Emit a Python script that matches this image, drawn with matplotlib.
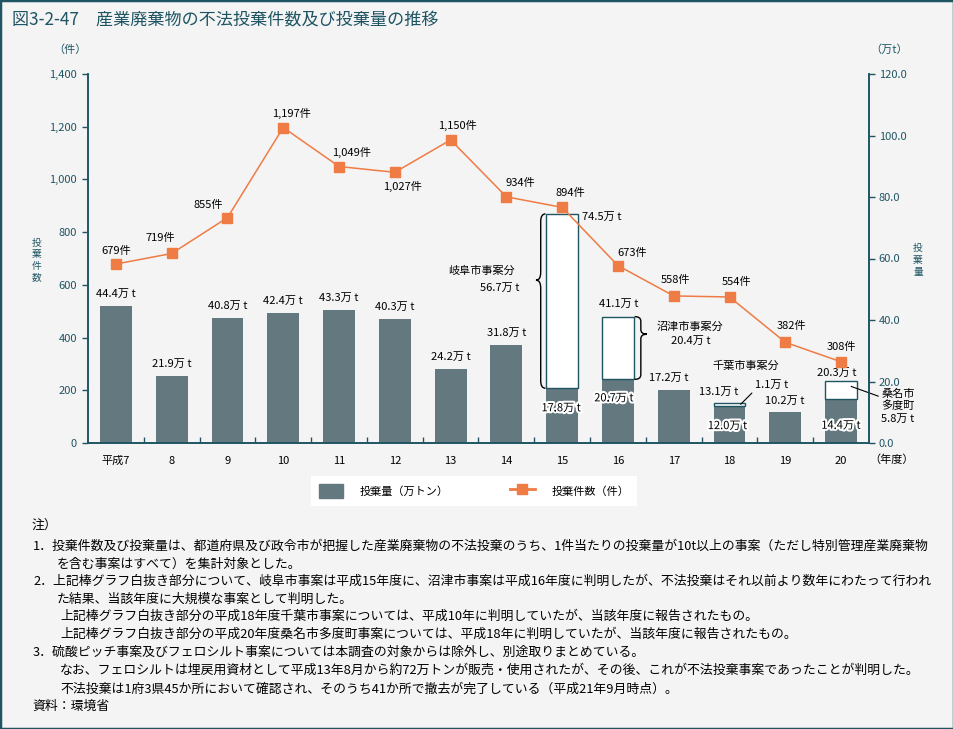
import numpy as np
import matplotlib
matplotlib.use("Agg")
import matplotlib.pyplot as plt
from matplotlib.path import Path
from matplotlib.patches import PathPatch, Patch, Rectangle
from matplotlib.lines import Line2D
import matplotlib.patheffects as pe

plt.rcParams['font.family'] = ['Noto Sans CJK JP', 'DejaVu Sans']

# data
years = ['平成7', '8', '9', '10', '11', '12', '13', '14', '15', '16', '17', '18', '19', '20']
counts = [679, 719, 855, 1197, 1049, 1027, 1150, 934, 894, 673, 558, 554, 382, 308]
amount_base = [44.4, 21.9, 40.8, 42.4, 43.3, 40.3, 24.2, 31.8, 17.8, 20.7, 17.2, 12.0, 10.2, 14.4]
amount_extra = [0, 0, 0, 0, 0, 0, 0, 0, 56.7, 20.4, 0, 1.1, 0, 5.8]
amount_total = [44.4, 21.9, 40.8, 42.4, 43.3, 40.3, 24.2, 31.8, 74.5, 41.1, 17.2, 13.1, 10.2, 20.3]

# label offsets in pixels (dx, dy up)
count_offsets = [(0, 13), (-11, 16), (-19, 13), (8, 14), (13, 14), (8, -14), (7, 14),
                 (14, 14), (8, 14), (14, 13), (2, 16), (7, 15), (6, 16), (0, 15)]
total_offsets = [(0, 13), (0, 12), (0, 12), (0, 12), (0, 12), (0, 12), (0, 12),
                 (0, 12), (40, -3), (1, 13), (-5, 12), (-11, 11), (-1, 11), (-4, 8)]

TEAL = '#1f5563'
GRAY = '#647880'
ORANGE = '#ef7b45'
BG = '#f4f4f4'
W, H = 954, 729
PT = 0.72  # px -> pt at dpi 100


def fx(x):
    return x / W


def fy(y):
    return 1 - y / H


fig = plt.figure(figsize=(9.54, 7.29), dpi=100, facecolor=BG)
ax = fig.add_axes([fx(88), fy(443), 781 / W, 369 / H])
ax.set_facecolor(BG)
ax2 = ax.twinx()

x = np.arange(len(years))
bw = 0.57
ax.bar(x, amount_base, width=bw, color=GRAY, zorder=2)
has_extra = [i for i, v in enumerate(amount_extra) if v > 0]
ax.bar(x[has_extra], [amount_extra[i] for i in has_extra], width=bw,
       bottom=[amount_base[i] for i in has_extra], color='white',
       edgecolor=TEAL, linewidth=1.0, zorder=2)
ax.set_ylim(0, 120)
ax.set_xlim(-0.5, len(years) - 0.5)
ax.yaxis.tick_right()
ax.set_yticks(np.arange(0, 121, 20))
ax.set_yticklabels([f'{v:.1f}' for v in np.arange(0, 121, 20)])

ax2.plot(x, counts, color=ORANGE, lw=1.1, marker='s', ms=6.5, mec=ORANGE, mfc=ORANGE, zorder=3)
ax2.set_ylim(0, 1400)
ax2.yaxis.tick_left()
ax2.set_yticks(np.arange(0, 1401, 200))
ax2.set_yticklabels([f'{v:,}' for v in range(0, 1401, 200)])

for a in (ax, ax2):
    a.spines['top'].set_visible(False)
    for s in ('left', 'right', 'bottom'):
        a.spines[s].set_color(TEAL)
        a.spines[s].set_linewidth(1.2)
    a.tick_params(axis='y', colors=TEAL, labelsize=8, length=4, width=1)

ax.tick_params(axis='y', pad=3)
ax2.tick_params(axis='y', pad=4)
ax.set_xticks(x)
ax.set_xticklabels(years)
ax.set_xticks(x[:-1] + 0.5, minor=True)
ax.tick_params(axis='x', which='major', length=0, pad=9, labelsize=8, labelcolor='black')
ax.tick_params(axis='x', which='minor', direction='in', length=4, width=1, color=TEAL)

# count labels
for i, c in enumerate(counts):
    dx, dy = count_offsets[i]
    ax2.annotate(f'{c:,}件', (x[i], c), xytext=(dx * PT, dy * PT), textcoords='offset points',
                 ha='center', va='center', fontsize=8)

# bar total labels
for i, t in enumerate(amount_total):
    dx, dy = total_offsets[i]
    ax.annotate(f'{t}万 t', (x[i], t), xytext=(dx * PT, dy * PT), textcoords='offset points',
                ha='center', va='center', fontsize=8)

# base labels inside bars with halo
halo = [pe.withStroke(linewidth=3, foreground='white')]
for i, (dx, dy) in zip([8, 9, 11, 13], [(-1, -20), (-4, -19), (-2, -20), (0, -27)]):
    ax.annotate(f'{amount_base[i]}万 t', (x[i], amount_base[i]), xytext=(dx * PT, dy * PT),
                textcoords='offset points', ha='center', va='center', fontsize=8,
                path_effects=halo, zorder=5)


def brace(a, x0, y0, y1, w, r, frac=0.5):
    # curly brace from y0 to y1, tip pointing by w, tip at frac of the height
    ym = y0 + frac * (y1 - y0)
    verts = [(x0, y0), (x0 + w / 2, y0), (x0 + w / 2, y0 + r), (x0 + w / 2, ym - r),
             (x0 + w / 2, ym), (x0 + w, ym), (x0 + w / 2, ym), (x0 + w / 2, ym + r),
             (x0 + w / 2, y1 - r), (x0 + w / 2, y1), (x0, y1)]
    codes = [Path.MOVETO, Path.CURVE3, Path.CURVE3, Path.LINETO, Path.CURVE3, Path.CURVE3,
             Path.CURVE3, Path.CURVE3, Path.LINETO, Path.CURVE3, Path.CURVE3]
    a.add_patch(PathPatch(Path(verts, codes), fill=False, lw=1.0, color='black', zorder=4))
    return x0 + w, ym


# 岐阜市
tx, ty = brace(ax, x[8] - 0.30, amount_base[8], amount_total[8], -0.17, 2.5, frac=0.62)
ax.annotate('岐阜市事案分', (tx, ty), xytext=(-54 * PT, 9 * PT), textcoords='offset points',
            ha='center', va='center', fontsize=8)
ax.annotate(f'{amount_extra[8]}万 t', (tx, ty), xytext=(-36 * PT, -8 * PT), textcoords='offset points',
            ha='center', va='center', fontsize=8)

# 沼津市
tx, ty = brace(ax, x[9] + 0.30, amount_base[9], amount_total[9], 0.22, 1.5, frac=0.72)
ax.annotate('沼津市事案分', (tx, ty), xytext=(43 * PT, 8 * PT), textcoords='offset points',
            ha='center', va='center', fontsize=8)
ax.annotate(f'{amount_extra[9]}万 t', (tx, ty), xytext=(44 * PT, -7 * PT), textcoords='offset points',
            ha='center', va='center', fontsize=8)

# 千葉市
ax.annotate('千葉市事案分', (x[11], amount_total[11]), xytext=(16 * PT, 37 * PT),
            textcoords='offset points', ha='center', va='center', fontsize=8)
ax.annotate(f'{amount_extra[11]}万 t', (x[11] + 0.2, amount_total[11] - 0.5), xytext=(14 * PT, 19 * PT),
            textcoords='offset points', ha='left', va='center', fontsize=8,
            arrowprops=dict(arrowstyle='-', color='black', lw=0.8, shrinkA=0, shrinkB=0,
                            relpos=(0, 0)))

# 桑名市多度町
ax.annotate(f'桑名市\n多度町\n{amount_extra[13]}万 t', (x[13] + 0.18, amount_base[13] + 4.0),
            xytext=(30 * PT, -2 * PT), textcoords='offset points', ha='left', va='top',
            fontsize=8, linespacing=1.25, annotation_clip=False,
            arrowprops=dict(arrowstyle='-', color='black', lw=0.8, shrinkA=0, shrinkB=0,
                            relpos=(0, 0.75)))

# axis titles
fig.text(fx(70), fy(50), '（件）', ha='center', va='center', fontsize=8, color=TEAL)
fig.text(fx(889), fy(50), '（万t）', ha='center', va='center', fontsize=8, color=TEAL)
fig.text(fx(37), fy(260), '投\n棄\n件\n数', ha='center', va='center', fontsize=7,
         color=TEAL, linespacing=1.2)
fig.text(fx(918), fy(260), '投\n棄\n量', ha='center', va='center', fontsize=7,
         color=TEAL, linespacing=1.2)
fig.text(fx(892), fy(460), '（年度）', ha='center', va='center', fontsize=8)

# title
fig.text(fx(12), fy(20), '図3-2-47　産業廃棄物の不法投棄件数及び投棄量の推移', ha='left', va='center',
         fontsize=12.3, color=TEAL)

# legend
handles = [Patch(color=GRAY),
           Line2D([], [], color=ORANGE, lw=2, marker='s', ms=6.5, mfc=ORANGE, mec=ORANGE)]
leg = fig.legend(handles, ['投棄量（万トン）', '投棄件数（件）'], loc='center',
                 bbox_to_anchor=(fx(474), fy(491)), ncol=2, frameon=True, facecolor='white',
                 edgecolor='none', fancybox=False, fontsize=8, borderpad=0.7,
                 columnspacing=5.5, handlelength=2.2, handleheight=1.6, handletextpad=1.5)
leg.get_frame().set_alpha(1)

# notes
notes = [
    (32, 525, '注）'),
    (33, 546, '1．投棄件数及び投棄量は、都道府県及び政令市が把握した産業廃棄物の不法投棄のうち、1件当たりの投棄量が10t以上の事案（ただし特別管理産業廃棄物'),
    (57, 564, 'を含む事案はすべて）を集計対象とした。'),
    (33, 581, '2．上記棒グラフ白抜き部分について、岐阜市事案は平成15年度に、沼津市事案は平成16年度に判明したが、不法投棄はそれ以前より数年にわたって行われ'),
    (57, 599, 'た結果、当該年度に大規模な事案として判明した。'),
    (60, 616, '上記棒グラフ白抜き部分の平成18年度千葉市事案については、平成10年に判明していたが、当該年度に報告されたもの。'),
    (60, 634, '上記棒グラフ白抜き部分の平成20年度桑名市多度町事案については、平成18年に判明していたが、当該年度に報告されたもの。'),
    (33, 652, '3．硫酸ピッチ事案及びフェロシルト事案については本調査の対象からは除外し、別途取りまとめている。'),
    (60, 670, 'なお、フェロシルトは埋戻用資材として平成13年8月から約72万トンが販売・使用されたが、その後、これが不法投棄事案であったことが判明した。'),
    (60, 689, '不法投棄は1府3県45か所において確認され、そのうち41か所で撤去が完了している（平成21年9月時点）。'),
    (32, 706, '資料：環境省'),
]
for nx, ny, s in notes:
    fig.text(fx(nx), fy(ny), s, ha='left', va='center', fontsize=9.25)

fig.patches.append(Rectangle((0, 0), 1, 1, transform=fig.transFigure, fill=False,
                             edgecolor=TEAL, lw=2.5))

fig.savefig('out.png', dpi=100, facecolor=BG)
